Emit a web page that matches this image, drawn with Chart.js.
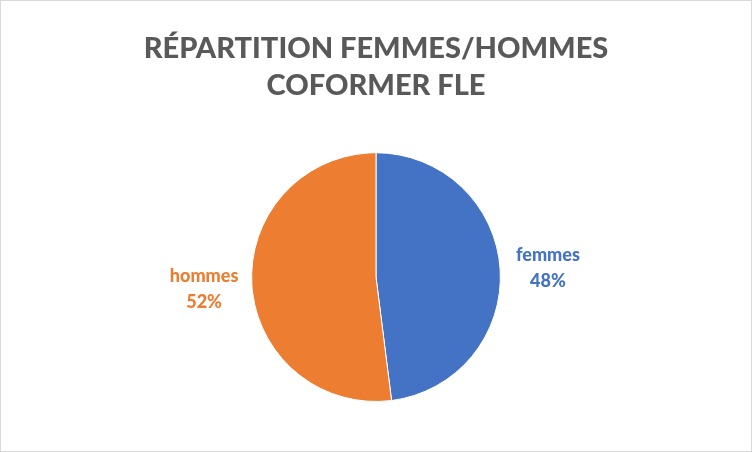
<!DOCTYPE html>
<html>
<head>
<meta charset="utf-8">
<script src="https://cdn.jsdelivr.net/npm/chart.js@4/dist/chart.umd.min.js"></script>
<style>
  body { margin: 0; background: #fff; }
  #wrap { position: relative; width: 752px; height: 452px; }
  #frame { position: absolute; left: 0; top: 0; width: 750px; height: 450px; border: 1px solid #d9d9d9; pointer-events: none; }
</style>
</head>
<body>
<div id="wrap">
  <canvas id="pieChart" width="752" height="452"></canvas>
  <div id="frame"></div>
</div>
<script>
// chart data
const labels = ["femmes", "hommes"];
const values = [48, 52];
const colors = ["#4472C4", "#ED7D31"];
const titleLines = ["RÉPARTITION FEMMES/HOMMES", "COFORMER FLE"];

// labels outside the slices: name + percentage
const outsideLabels = {
    id: "outsideLabels",
    afterDatasetsDraw(chart) {
        const ctx = chart.ctx;
        const meta = chart.getDatasetMeta(0);
        const total = values.reduce((a, b) => a + b, 0);
        ctx.save();
        ctx.font = "900 18px Lato";
        ctx.textAlign = "center";
        ctx.textBaseline = "middle";
        meta.data.forEach((arc, i) => {
            const mid = (arc.startAngle + arc.endAngle) / 2;
            const dist = arc.outerRadius * 1.385;
            const x = arc.x + Math.cos(mid) * dist;
            const y = arc.y + Math.sin(mid) * dist + 1.5;
            ctx.fillStyle = colors[i];
            ctx.fillText(labels[i], x, y - 13);
            ctx.fillText(Math.round(values[i] / total * 100) + "%", x, y + 13);
        });
        ctx.restore();
    }
};

const ctx = document.getElementById("pieChart").getContext("2d");

new Chart(ctx, {
    type: "pie",
    data: {
        labels: labels,
        datasets: [{
            data: values,
            backgroundColor: colors,
            borderColor: "#ffffff",
            borderWidth: 1,
        }],
    },
    options: {
        responsive: false,
        animation: false,
        layout: { padding: { top: 0, bottom: 50, left: 0, right: 0 } },
        plugins: {
            legend: { display: false },
            tooltip: { enabled: false },
            title: {
                display: true,
                text: titleLines,
                color: "#595959",
                font: { family: "Lato", size: 29, weight: "900", lineHeight: 1.28 },
                padding: { top: 30, bottom: 48 },
            },
        },
    },
    plugins: [outsideLabels],
});
</script>
</body>
</html>
